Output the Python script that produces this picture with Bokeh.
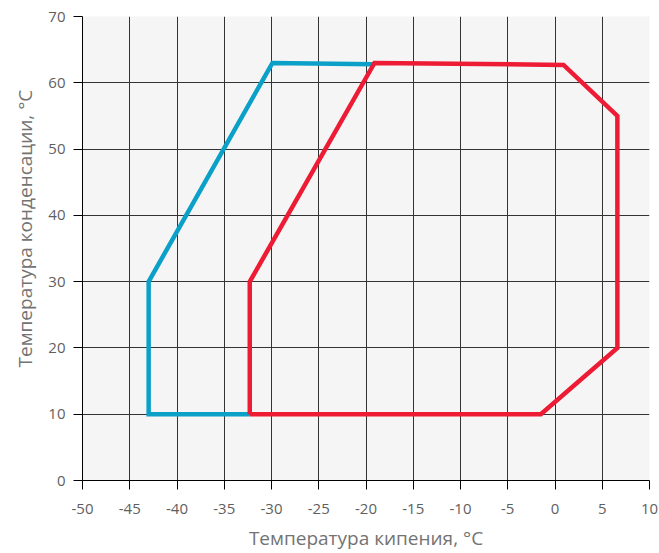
from bokeh.plotting import figure
from bokeh.embed import file_html
from bokeh.resources import INLINE
from bokeh.models import FixedTicker, Range1d, Title

# data: evaporating temperature (x) vs condensing temperature (y)
blue_x = [-32.3, -43.0, -43.0, -29.9, -19.2]
blue_y = [10.0, 10.0, 30.0, 63.0, 62.8]
red_x = [-32.3, -32.3, -19.1, 0.9, 6.6, 6.6, -1.5, -32.3]
red_y = [10.0, 30.0, 63.0, 62.7, 55.0, 20.0, 10.0, 10.0]

x_ticks = list(range(-50, 11, 5))
y_ticks = list(range(0, 71, 10))
x_tick_labels = {t: str(t) for t in x_ticks}
y_tick_labels = {t: str(t) for t in y_ticks}

FONT = "Open Sans"
GRAY = "#5f5f5f"
LGRAY = "#737373"

p = figure(width=659, height=553, output_backend="svg", toolbar_location=None,
           x_range=Range1d(-50, 10), y_range=Range1d(0, 70),
           min_border_left=82, min_border_right=10, min_border_top=16, min_border_bottom=72)

p.background_fill_color = "#f5f5f5"
p.border_fill_color = "white"
p.outline_line_color = None

p.xaxis.ticker = FixedTicker(ticks=x_ticks)
p.yaxis.ticker = FixedTicker(ticks=y_ticks)
p.xaxis.major_label_overrides = x_tick_labels
p.yaxis.major_label_overrides = y_tick_labels
for ax in (p.xaxis, p.yaxis):
    ax.axis_line_color = "black"
    ax.axis_line_width = 1
    ax.major_tick_line_color = "black"
    ax.major_tick_out = 9
    ax.major_tick_in = 0
    ax.minor_tick_line_color = None
    ax.major_label_text_font = FONT
    ax.major_label_text_font_size = "15px"
    ax.major_label_text_color = GRAY
    ax.axis_label_text_font = FONT
    ax.axis_label_text_font_size = "19px"
    ax.axis_label_text_font_style = "normal"
    ax.axis_label_text_color = LGRAY

p.xaxis.axis_label = "Температура кипения, °C"
p.xaxis.axis_label_text_line_height = 0.8
p.xaxis.major_label_standoff = 14
p.yaxis.major_label_standoff = 8
p.xaxis.axis_label_standoff = 8

ytitle = Title(text="Температура конденсации, °C", align="left", offset=113,
               text_font=FONT, text_font_size="19px", text_font_style="normal",
               text_color=LGRAY, standoff=15)
p.add_layout(ytitle, "left")

p.xgrid.ticker = FixedTicker(ticks=x_ticks)
p.ygrid.ticker = FixedTicker(ticks=y_ticks)
p.grid.grid_line_color = "#333333"
p.grid.grid_line_width = 1
p.grid.grid_line_alpha = 1.0

p.line(blue_x, blue_y, line_color="#0AA0C8", line_width=4.5, line_join="miter")
p.line(red_x, red_y, line_color="#ED1B34", line_width=4.5, line_join="miter")

open("out.html", "w").write(file_html(p, INLINE))
